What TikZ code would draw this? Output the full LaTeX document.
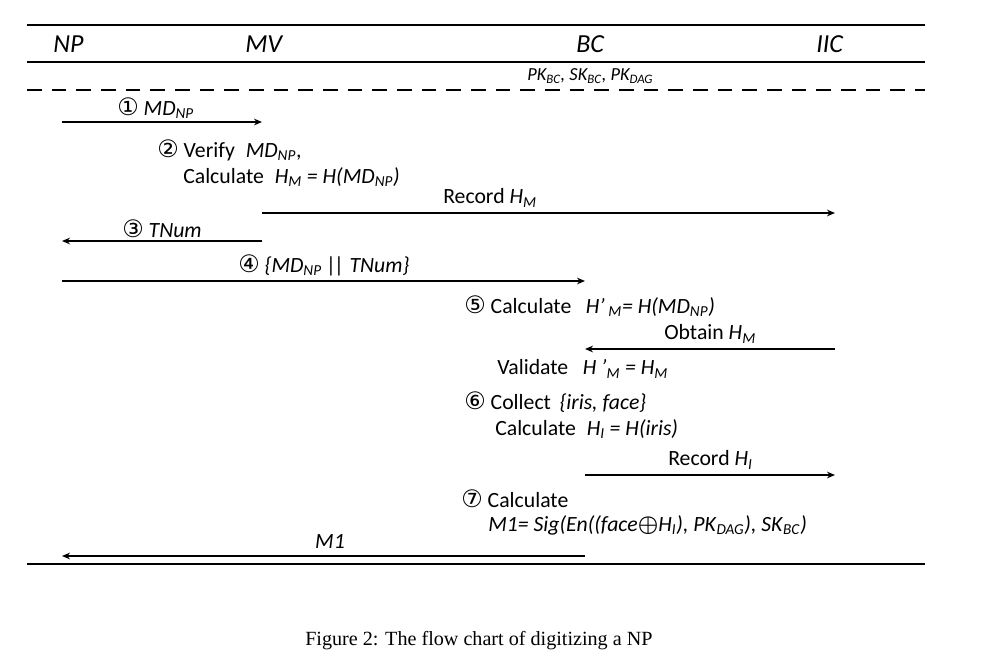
\documentclass[tikz,border=0pt]{standalone}
\usepackage{fontspec}
\setmainfont{Carlito}
\newfontfamily\circfont{DejaVu Sans}
\newfontfamily\capfont{Liberation Serif}
\usetikzlibrary{arrows.meta}
\newcommand{\cnum}[1]{{\circfont\fontsize{18}{18}\selectfont #1}}
\newcommand{\vsub}[2]{\textit{#1}\textsubscript{\textit{#2}}}

\begin{document}
\begin{tikzpicture}[x=0.75pt,y=0.75pt,yscale=-1,xscale=1,
  msg/.style={line width=1.1pt,-{Stealth[length=6pt,width=5pt]}},
  txt/.style={anchor=west,inner sep=0.75pt,font=\fontsize{16.3}{18}\selectfont},
  head/.style={anchor=west,inner sep=0.75pt,font=\fontsize{19.5}{21}\selectfont\itshape}]
\useasboundingbox (0,0) rectangle (997,668);

%Rules
\draw [line width=2.2pt] (27,25) -- (925,25);
\draw [line width=1.8pt] (27,62) -- (925,62);
\draw [line width=1.5pt,dash pattern=on 11pt off 7.5pt] (27,90) -- (925,90);
\draw [line width=2.2pt] (27,564) -- (925,564);

% Header
\node [head] (np) at (52,44) {NP};
\node [head] (mv) at (244,44) {MV};
\node [head] (bc) at (575,44) {BC};
\node [head] (iic) at (815,44) {IIC};
\node [anchor=west,inner sep=0.75pt,font=\fontsize{13.8}{15}\selectfont\itshape] (keys) at (526,76) {PK\textsubscript{BC}, SK\textsubscript{BC}, PK\textsubscript{DAG}};

% Message ends
\coordinate (np1) at (62,122);   \coordinate (mv1) at (262,122);
\coordinate (mv2) at (262,213);  \coordinate (iic2) at (835,213);
\coordinate (mv3) at (262,241);  \coordinate (np3) at (62,241);
\coordinate (np4) at (62,281);   \coordinate (bc4) at (585,281);
\coordinate (iic5) at (835,349); \coordinate (bc5) at (585,349);
\coordinate (bc6) at (585,475);  \coordinate (iic6) at (835,475);
\coordinate (bc7) at (585,556);  \coordinate (np7) at (62,556);

% Messages
\draw [msg] (np1) -- (mv1);
\draw [msg] (mv2) -- (iic2);
\draw [msg] (mv3) -- (np3);
\draw [msg] (np4) -- (bc4);
\draw [msg] (iic5) -- (bc5);
\draw [msg] (bc6) -- (iic6);
\draw [msg] (bc7) -- (np7);

% Text Node
\node [txt] (s1) at (116,108) {\cnum{①} \vsub{MD}{NP}};
% Text Node
\node [txt] (s2) at (156,150) {\cnum{②} Verify\enspace\vsub{MD}{NP},};
% Text Node
\node [txt] (s2b) at (182,177) {Calculate\enspace \vsub{H}{M} \textit{= H(}\vsub{MD}{NP}\textit{)}};
% Text Node
\node [txt] (rec1) at (442,198) {Record \vsub{H}{M}};
% Text Node
\node [txt] (s3) at (121,229) {\cnum{③} \textit{TNum}};
% Text Node
\node [txt] (s4) at (237,265) {\cnum{④} \textit{\{}\vsub{MD}{NP} \textit{|\kern-1.5pt| TNum\}}};
% Text Node
\node [txt] (s5) at (463,306) {\cnum{⑤} Calculate\enspace\,\textit{H'}\,\textsubscript{\textit{M}}\textit{= H(}\vsub{MD}{NP}\textit{)}};
% Text Node
\node [txt] (obt) at (663,334) {Obtain \vsub{H}{M}};
% Text Node
\node [txt] (val) at (496,369) {Validate\enspace\,\textit{H '}\textsubscript{\textit{M}} \textit{= }\vsub{H}{M}};
% Text Node
\node [txt] (s6) at (463,402) {\cnum{⑥} Collect\ \,\textit{\{iris, face\}}};
% Text Node
\node [txt] (s6b) at (494,429) {Calculate\enspace\vsub{H}{I} \textit{= H(iris)}};
% Text Node
\node [txt] (rec2) at (667,460) {Record \vsub{H}{I}};
% Text Node
\node [txt] (s7) at (460,499) {\cnum{⑦} Calculate};
% Text Node
\node [txt] (s7b) at (487,525) {\textit{M1= Sig(En((face}{\boldmath$\oplus$}\vsub{H}{I}\textit{), PK}\textsubscript{\textit{DAG}}\textit{), SK}\textsubscript{\textit{BC}}\textit{)}};
% Text Node
\node [txt,anchor=center] (m1) at (330,542) {\textit{M1}};

% Caption
\node [anchor=west,inner sep=0.75pt,font=\capfont\fontsize{15.1}{17}\selectfont] (cap) at (304,641) {Figure 2: The flow chart of digitizing a NP};

\end{tikzpicture}
\end{document}
